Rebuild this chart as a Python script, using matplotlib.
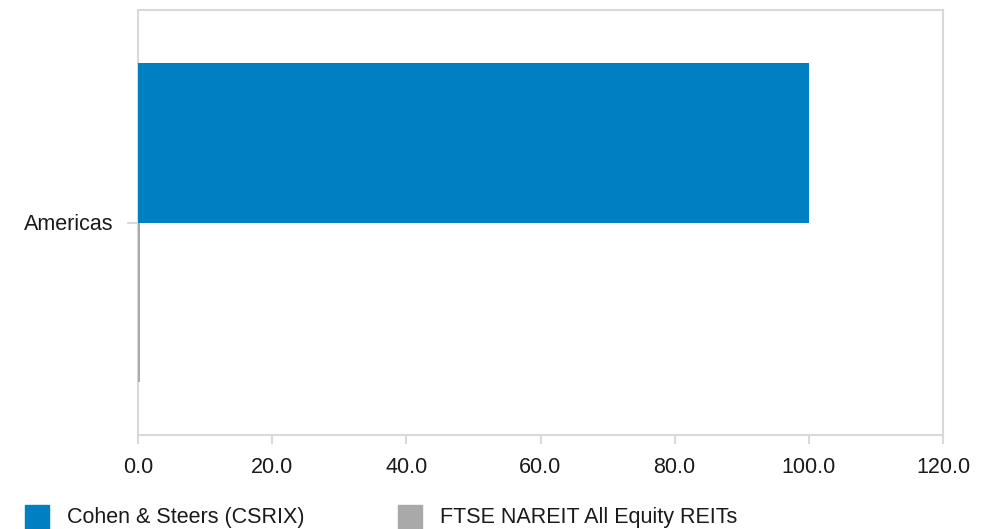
import matplotlib.pyplot as plt
from matplotlib.patches import Rectangle

plt.rcParams['font.family'] = ['Liberation Sans', 'DejaVu Sans']

####### Chart data #######
categories = ["Americas"]
series_names = ["Cohen & Steers (CSRIX)", "FTSE NAREIT All Equity REITs"]
fund_values = [100.0]
index_values = [0.3]
x_ticks = [0, 20, 40, 60, 80, 100, 120]

COLORS = ["#0080C3", "#A9A9A9"]
BORDER = "#D9D9D9"
TEXT = "#1a1a1a"
BAR_H = 0.375
FS = 15.5

fig = plt.figure(figsize=(9.86, 5.29), dpi=100)
ax = fig.add_axes([138 / 986, 1 - 435 / 529, (943 - 138) / 986, (435 - 10) / 529])

ypos = list(range(len(categories)))
ax.barh([y - BAR_H / 2 for y in ypos], fund_values, height=BAR_H, color=COLORS[0], zorder=3)
ax.barh([y + BAR_H / 2 for y in ypos], index_values, height=BAR_H, color=COLORS[1], zorder=3)

ax.set_xlim(0, 120)
ax.set_ylim(0.5, -0.5)
ax.set_xticks(x_ticks)
ax.set_xticklabels([f"{v:.1f}" for v in x_ticks])
ax.set_yticks(ypos)
ax.set_yticklabels(categories)
# tick sizes are in points (px * 0.72 at dpi 100)
ax.tick_params(axis='both', colors=BORDER, labelcolor=TEXT, labelsize=FS, width=1.5)
ax.tick_params(axis='x', length=6.5, pad=9)
ax.tick_params(axis='y', length=8, pad=9.5)
for s in ax.spines.values():
    s.set_color(BORDER)
    s.set_linewidth(1.5)

# legend along the bottom edge
legend_x = [25, 398]
for x0, name, c in zip(legend_x, series_names, COLORS):
    fig.patches.append(Rectangle((x0 / 986, 0), 24 / 986, 24 / 529,
                                 transform=fig.transFigure, color=c))
    fig.text((x0 + 42) / 986, 6 / 529, name, fontsize=FS, color=TEXT,
             ha='left', va='baseline')

plt.savefig("out.png", dpi=100)
plt.close()
